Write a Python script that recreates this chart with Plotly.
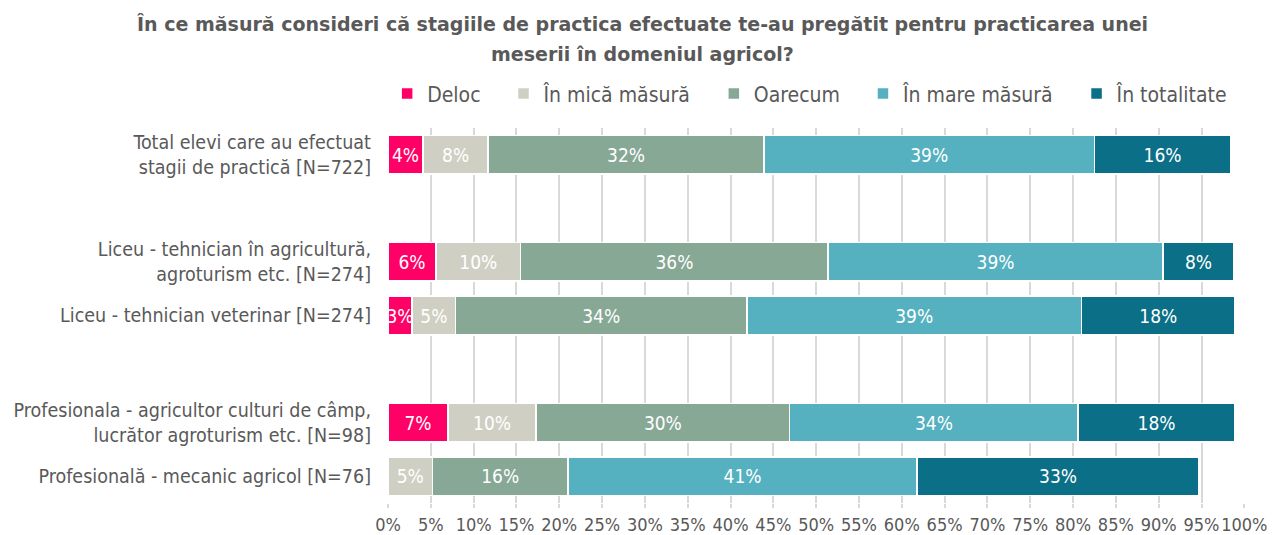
import plotly.graph_objects as go

# categorii (de sus in jos); " " si "  " sunt randuri goale de separare
categorii = [
    "Total elevi care au efectuat<br>stagii de practică [N=722]",
    " ",
    "Liceu - tehnician în agricultură,<br>agroturism etc. [N=274]",
    "Liceu - tehnician veterinar [N=274]",
    "  ",
    "Profesionala - agricultor culturi de câmp,<br>lucrător agroturism etc. [N=98]",
    "Profesională - mecanic agricol [N=76]",
]
randuri = [categorii[0], categorii[2], categorii[3], categorii[5], categorii[6]]

deloc = [4.1, 5.6, 2.8, 7.0, 0]
mica_masura = [7.6, 9.9, 5.1, 10.3, 5.2]
oarecum = [32.2, 35.9, 34.0, 29.6, 15.8]
mare_masura = [38.6, 39.1, 39.1, 33.7, 40.8]
totalitate = [15.9, 8.3, 17.9, 18.3, 32.9]

serii = [
    ("Deloc", deloc, "#FF0066"),
    ("În mică măsură", mica_masura, "#CFD0C3"),
    ("Oarecum", oarecum, "#86A895"),
    ("În mare măsură", mare_masura, "#55B1BF"),
    ("În totalitate", totalitate, "#0A6F87"),
]

titlu = [
    "În ce măsură consideri că stagiile de practica efectuate te-au pregătit pentru practicarea unei",
    "meserii în domeniul agricol?",
]

FONT = "DejaVu Sans Condensed, DejaVu Sans"
GRI = "#595959"
SPATIU = "\u00a0" * 3  # distanta intre elementele legendei

fig = go.Figure()
for i, (nume, valori, culoare) in enumerate(serii):
    fig.add_trace(go.Bar(
        name=nume + (SPATIU if i < len(serii) - 1 else ""),
        y=randuri, x=valori, orientation="h",
        marker=dict(color=culoare, line=dict(color="white", width=1.5)),
        text=[f"{round(v)}%" if v > 0 else "" for v in valori],
        textposition="inside", insidetextanchor="middle", textangle=0,
        textfont=dict(family=FONT, size=19, color="white"),
        constraintext="none", cliponaxis=False,
        hoverinfo="skip",
    ))

fig.update_layout(
    barmode="stack",
    bargap=0.28,
    width=1273, height=535,
    margin=dict(l=388, r=28, t=128, b=32, autoexpand=False),
    paper_bgcolor="white", plot_bgcolor="white",
    font=dict(family=FONT, color=GRI),
    legend=dict(
        orientation="h", x=-0.001, xanchor="left",
        y=1.091, yanchor="middle",
        font=dict(family=FONT, size=21, color=GRI),
        itemwidth=30, traceorder="normal",
    ),
    uniformtext=dict(minsize=8, mode="show"),
)

for rand, y in zip(titlu, [1.278, 1.197]):
    fig.add_annotation(
        text=rand, xref="paper", yref="paper", x=0.2964, y=y,
        xanchor="center", yanchor="middle", showarrow=False,
        font=dict(family="DejaVu Sans", size=19, color=GRI, weight="bold"),
    )

fig.update_xaxes(
    range=[0, 100.08], tickmode="linear", tick0=0, dtick=5, ticksuffix="%",
    tickangle=0,
    showgrid=True, gridcolor="#D9D9D9", gridwidth=1.5, zeroline=False,
    showline=False, ticks="outside", ticklen=4, tickcolor="#D9D9D9", tickwidth=1.5,
    ticklabelstandoff=1, ticklabeloverflow="allow",
    tickfont=dict(family=FONT, size=18, color=GRI),
    automargin=False, fixedrange=True,
)
fig.update_yaxes(
    type="category", categoryorder="array", categoryarray=categorii,
    autorange="reversed", showgrid=False, showline=False,
    tickfont=dict(family=FONT, size=19.5, color=GRI), ticklabelstandoff=16,
    automargin=False, fixedrange=True,
)

# fara marginea implicita de 8px a paginii
fig.write_html(
    "out.html",
    config={"displayModeBar": False},
    post_script="document.body.style.margin='0';",
)
